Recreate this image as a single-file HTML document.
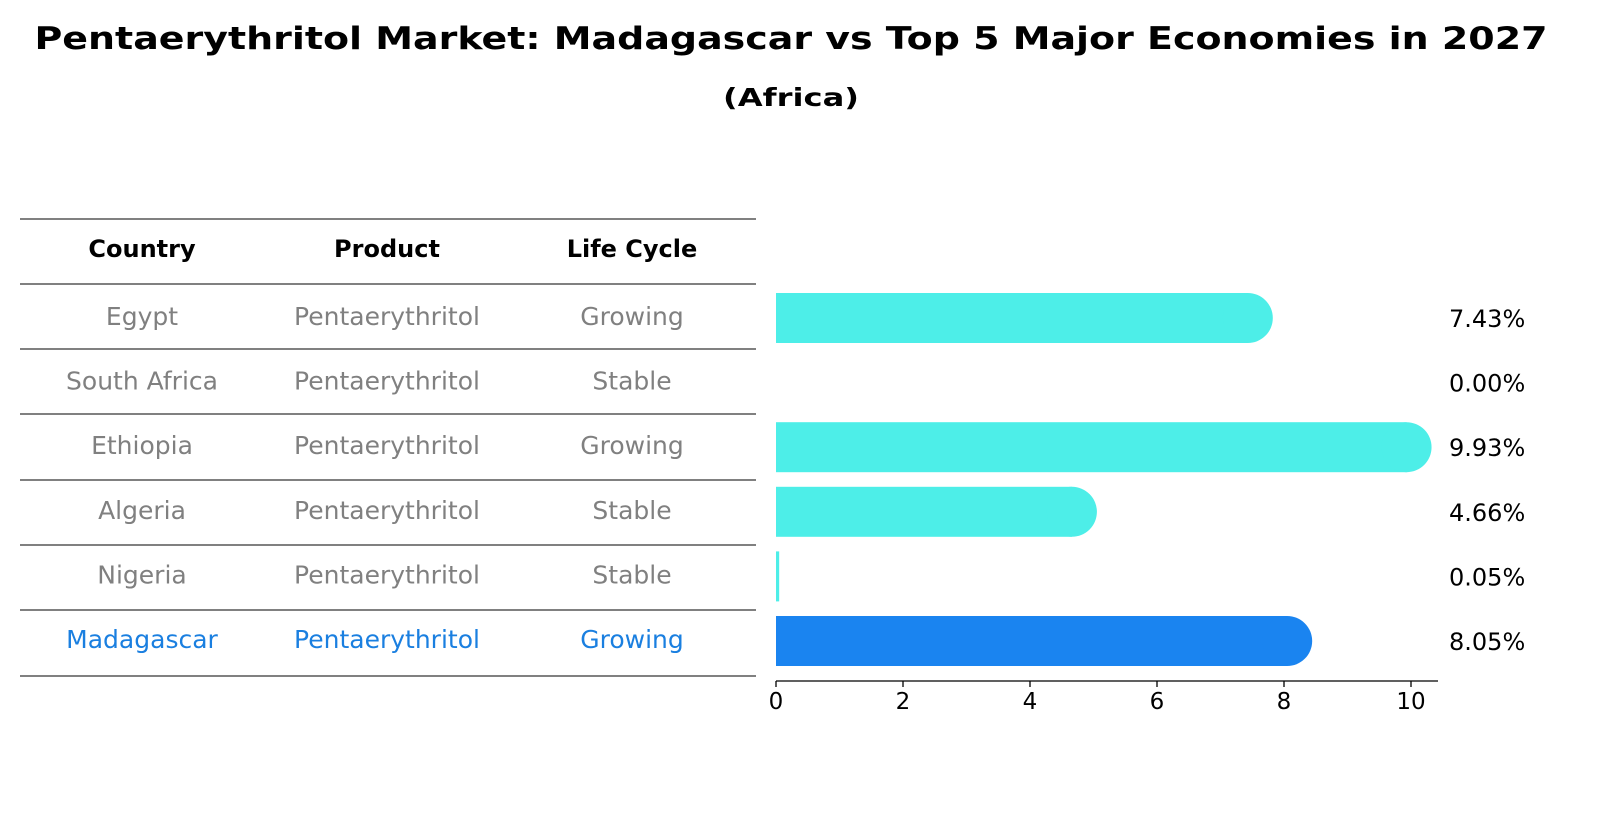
<!DOCTYPE html>
<html><head><meta charset="utf-8"><style>
body{margin:0;background:#fff;}
svg text{font-family:"DejaVu Sans","Liberation Sans",sans-serif;}
</style></head><body>
<svg id="chart" width="1601" height="823" xmlns="http://www.w3.org/2000/svg">
<text x="791" y="49" text-anchor="middle" font-size="31" font-weight="bold" textLength="1513" lengthAdjust="spacingAndGlyphs">Pentaerythritol Market: Madagascar vs Top 5 Major Economies in 2027</text>
<text x="791" y="106" text-anchor="middle" font-size="25" font-weight="bold" textLength="136" lengthAdjust="spacingAndGlyphs">(Africa)</text>
<g id="table"></g>
<g id="bars"></g>
</svg>
<script>
const countries=["Egypt","South Africa","Ethiopia","Algeria","Nigeria","Madagascar"];
const products=["Pentaerythritol","Pentaerythritol","Pentaerythritol","Pentaerythritol","Pentaerythritol","Pentaerythritol"];
const lifeCycles=["Growing","Stable","Growing","Stable","Stable","Growing"];
const values=[7.43,0.00,9.93,4.66,0.05,8.05];
const xTicks=[0,2,4,6,8,10];
const NS="http://www.w3.org/2000/svg";
function mk(tag,attrs,parent){const e=document.createElementNS(NS,tag);for(const k in attrs)e.setAttribute(k,attrs[k]);parent.appendChild(e);return e;}
const x=v=>776+v*63.5;
const rowY=i=>318+i*64.6;
const table=document.getElementById('table');
const bars=document.getElementById('bars');
const colX=[142,387,632];
const lineYs=[219,284,349,414,480,545,610,676];
lineYs.forEach(y=>{const l=mk('line',{x1:20,x2:756,y1:y,y2:y,stroke:'#000','stroke-width':1},table);

});
["Country","Product","Life Cycle"].forEach((h,j)=>{const t=mk('text',{x:colX[j],y:257,'text-anchor':'middle','font-size':24,'font-weight':'bold'},table);t.textContent=h;

});
countries.forEach((c,i)=>{
 const col=c==="Madagascar"?"#1a7fe0":"#808080";
 [c,products[i],lifeCycles[i]].forEach((s,j)=>{const t=mk('text',{x:colX[j],y:rowY(i)+7,'text-anchor':'middle','font-size':25,fill:col},table);t.textContent=s;
 
 });
 const color=c==="Madagascar"?"#1a84f0":"#4deee8";
 const g=mk('g',{},bars);
 
 
 if(values[i]>0){
  const w=x(values[i])-x(0);
  mk('rect',{x:x(0),y:rowY(i)-25,width:Math.max(w,3),height:50,fill:color},g);
  if(w>4) mk('circle',{cx:x(values[i]),cy:rowY(i),r:25,fill:color},g);
 }
 const v=mk('text',{x:1449,y:rowY(i)+9,'font-size':24},bars);v.textContent=values[i].toFixed(2)+'%';
 
 
});
const ax=mk('line',{x1:776,x2:1438,y1:681,y2:681,stroke:'#000','stroke-width':1.3},bars);


xTicks.forEach(t=>{
 const tk=mk('line',{x1:x(t),x2:x(t),y1:681,y2:687,stroke:'#000','stroke-width':1.3},bars);
 
 
 const tl=mk('text',{x:x(t),y:709,'text-anchor':'middle','font-size':23},bars);tl.textContent=t;
 
 
});
</script>
</body></html>
